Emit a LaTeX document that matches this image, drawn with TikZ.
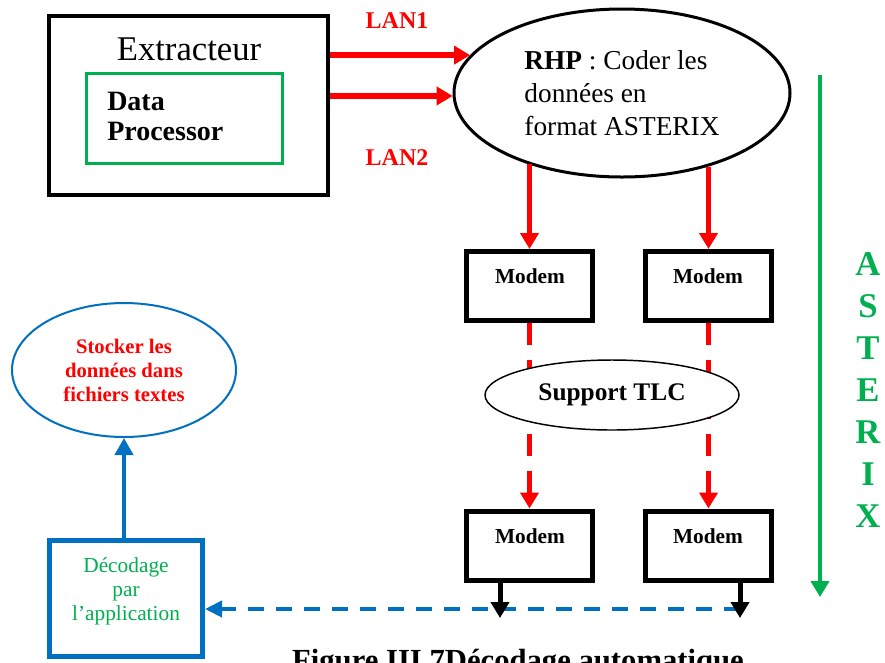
\documentclass[tikz,border=0pt]{standalone}
\usepackage{fontspec}
\setmainfont{Liberation Serif}
\usetikzlibrary{arrows.meta,shapes.geometric}
\definecolor{rd}{HTML}{FF0000}
\definecolor{gn}{HTML}{00B050}
\definecolor{bl}{HTML}{0070C0}

\begin{document}
\begin{tikzpicture}[x=0.75pt,y=-0.75pt,
  outerbox/.style={draw, line width=3pt, minimum width=209.25pt, minimum height=134.25pt, inner sep=0},
  greenbox/.style={draw=gn, line width=2.25pt, minimum width=147pt, minimum height=67.5pt, inner sep=0},
  modembox/.style={draw, line width=3.75pt, minimum width=94.5pt, minimum height=51.75pt, inner sep=0},
  modemlbl/.style={font=\fontsize{16}{18}\selectfont\bfseries, anchor=base, inner sep=0},
  lanlbl/.style={text=rd, font=\fontsize{18}{20}\selectfont\bfseries, anchor=base, inner sep=0},
  redarrow/.style={draw=rd, line width=3.75pt, -{Triangle[length=12pt,width=13.5pt]}},
  lanarrow/.style={draw=rd, line width=4.5pt, -{Triangle[length=12pt,width=13.5pt]}},
  blackarrow/.style={draw, line width=3.75pt, -{Triangle[length=12pt,width=13.5pt]}},
  bluedash/.style={draw=bl, line width=3pt, dash pattern=on 12pt off 9pt, -{Triangle[length=12.75pt,width=12pt]}},
  blueup/.style={draw=bl, line width=3.5pt, -{Triangle[length=12.75pt,width=13.5pt]}},
  greenarrow/.style={draw=gn, line width=3pt, -{Triangle[length=12pt,width=13.5pt]}}
]
\useasboundingbox (0,0) rectangle (885,662);
\clip (0,0) rectangle (885,662);
\fill[white] (0,0) rectangle (885,662);

% Extracteur with its data processor
\node[outerbox] (ext) at (188.5,105.5) {};
\node[font=\fontsize{26}{30}\selectfont, anchor=base, inner sep=0] (extl) at (189,60) {Extracteur};
\node[greenbox] (dp) at (184.5,118.5) {};
\node[font=\fontsize{21}{22.5}\selectfont\bfseries, align=left, anchor=west, inner sep=0] (dpl) at (107,116.5) {Data\\Processor};

% RHP coder
\node[ellipse, draw, line width=2.25pt, minimum width=252pt, minimum height=126pt, inner sep=0,
      align=left, font=\fontsize{20.5}{25}\selectfont] (rhp) at (622,93)
      {\textbf{RHP} : Coder les\\données en\\format ASTERIX};

% LAN links
\node[lanlbl] (lan1) at (397,28) {LAN1};
\node[lanlbl] (lan2) at (397,165) {LAN2};
\draw[lanarrow] (ext.east |- rhp.166.7) -- (rhp.166.7);
\draw[lanarrow] (ext.east |- rhp.181.4) -- (rhp.181.4);

% Modems
\node[modembox] (m1) at (529.5,286) {};
\node[modembox] (m2) at (708.5,286) {};
\node[modembox] (m3) at (529.5,545.5) {};
\node[modembox] (m4) at (708.5,545.5) {};
\node[modemlbl] (m1l) at (530,283) {Modem};
\node[modemlbl] (m2l) at (708,283) {Modem};
\node[modemlbl] (m3l) at (530,543) {Modem};
\node[modemlbl] (m4l) at (708,543) {Modem};

\draw[redarrow] (rhp.217.3 -| m1.north) -- (m1.north);
\draw[redarrow] (rhp.319.5 -| m2.north) -- (m2.north);

% Telecom links through the TLC support
\draw[redarrow, dash pattern=on 16.5pt off 11.25pt] (m1.south) -- (m3.north);
\draw[redarrow, dash pattern=on 16.5pt off 11.25pt] (m2.south) -- (m4.north);
\node[ellipse, draw, fill=white, line width=1.1pt, minimum width=190.5pt, minimum height=52.5pt, inner sep=0,
      font=\fontsize{19}{22}\selectfont\bfseries] (tlc) at (612,395) {Support TLC};

% Decoding and storage
\node[draw=bl, line width=3.75pt, minimum width=114.75pt, minimum height=87pt, inner sep=0] (dec) at (126,598.5) {};
\node[font=\fontsize{16}{18}\selectfont, text=gn, align=center, inner sep=0] (decl) at (126,591)
      {Décodage\\par\\l’application};
\node[ellipse, draw=bl, line width=1.5pt, minimum width=168pt, minimum height=100.5pt, inner sep=0,
      align=center, text=rd, font=\fontsize{15.5}{18}\selectfont\bfseries] (st) at (124,370)
      {Stocker les\\données dans\\fichiers textes};
\draw[blueup] (st.south |- dec.north) -- (st.south);

\coordinate (bd) at (740,609);
\draw[bluedash] (bd) -- (dec.east |- bd);

% Outputs of the receiving modems
\coordinate (k1) at (500,618);
\coordinate (k2) at (740,618);
\draw[blackarrow] (m3.south -| k1) -- (k1);
\draw[blackarrow] (m4.south -| k2) -- (k2);

% ASTERIX direction
\coordinate (g0) at (820,75);
\coordinate (g1) at (820,597);
\draw[greenarrow] (g0) -- (g1);
\node[text=gn, font=\fontsize{26}{31.5}\selectfont\bfseries, align=center, inner sep=0] (ast) at (868,390.5)
      {A\\S\\T\\E\\R\\I\\X};

% Caption
\node[font=\fontsize{23}{26}\selectfont\bfseries, anchor=base, inner sep=0] (cap) at (518,670)
      {Figure III.7Décodage automatique};
\end{tikzpicture}
\end{document}
